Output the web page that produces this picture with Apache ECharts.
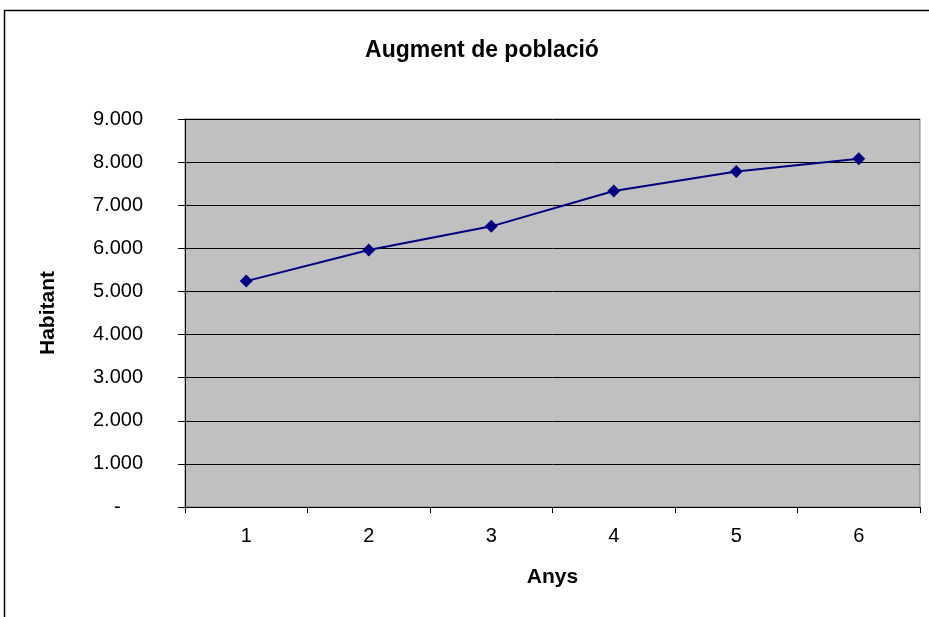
<!DOCTYPE html>
<html>
<head>
<meta charset="utf-8">
<script src="https://cdn.jsdelivr.net/npm/echarts@6/dist/echarts.min.js"></script>
<style>
  html, body { margin: 0; padding: 0; background: #fff; }
  #chart { width: 929px; height: 617px; }
</style>
</head>
<body>
<div id="chart"></div>
<script>
// dades llegides del gràfic
const anys = ['1', '2', '3', '4', '5', '6']
const habitants = [5240, 5960, 6510, 7330, 7780, 8080]
const yMin = 0
const yMax = 9000
const yStep = 1000

const font = '"Liberation Sans", Arial, sans-serif'

function fmtMiles(v) {
  if (v === 0) return '-    '
  return String(v).replace(/\B(?=(\d{3})+(?!\d))/g, '.')
}

const chart = echarts.init(document.getElementById('chart'), null, { renderer: 'canvas' })

chart.setOption({
  backgroundColor: '#fff',
  animation: false,
  title: {
    text: 'Augment de població',
    left: 477, top: 34, textAlign: 'center',
    textStyle: { fontFamily: font, fontSize: 23, fontWeight: 'bold', color: '#000' },
  },
  graphic: [{
    type: 'rect',
    shape: { x: 4.5, y: 10.5, width: 1000, height: 1000 },
    style: { fill: 'none', stroke: '#000', lineWidth: 1.5 },
    silent: true,
  }],
  grid: {
    left: 185, top: 119, width: 735, height: 388,
    show: true, backgroundColor: '#c0c0c0', borderColor: '#808080', borderWidth: 1,
  },
  xAxis: {
    type: 'category',
    data: anys,
    boundaryGap: true,
    name: 'Anys',
    nameLocation: 'middle',
    nameGap: 60,
    nameTextStyle: { fontFamily: font, fontSize: 21, fontWeight: 'bold', color: '#000' },
    axisLine: { lineStyle: { color: '#000', width: 1 } },
    axisTick: { show: true, length: 6, lineStyle: { color: '#000' } },
    axisLabel: { fontFamily: font, fontSize: 20, color: '#000', margin: 19 },
    splitLine: { show: false },
  },
  yAxis: {
    type: 'value',
    min: yMin, max: yMax, interval: yStep,
    name: 'Habitant',
    nameLocation: 'middle',
    nameGap: 126,
    nameRotate: 90,
    nameTextStyle: { fontFamily: font, fontSize: 21, fontWeight: 'bold', color: '#000' },
    axisLine: { show: true, lineStyle: { color: '#000', width: 1 } },
    axisTick: { show: true, length: 7, lineStyle: { color: '#000' } },
    axisLabel: { fontFamily: font, fontSize: 20, color: '#000', margin: 42, formatter: fmtMiles },
    splitLine: { show: true, lineStyle: { color: '#000', width: 1 } },
  },
  series: [{
    type: 'line',
    data: habitants,
    symbol: 'diamond',
    symbolSize: 13,
    itemStyle: { color: '#000080' },
    lineStyle: { color: '#000080', width: 2 },
  }],
})
</script>
</body>
</html>
